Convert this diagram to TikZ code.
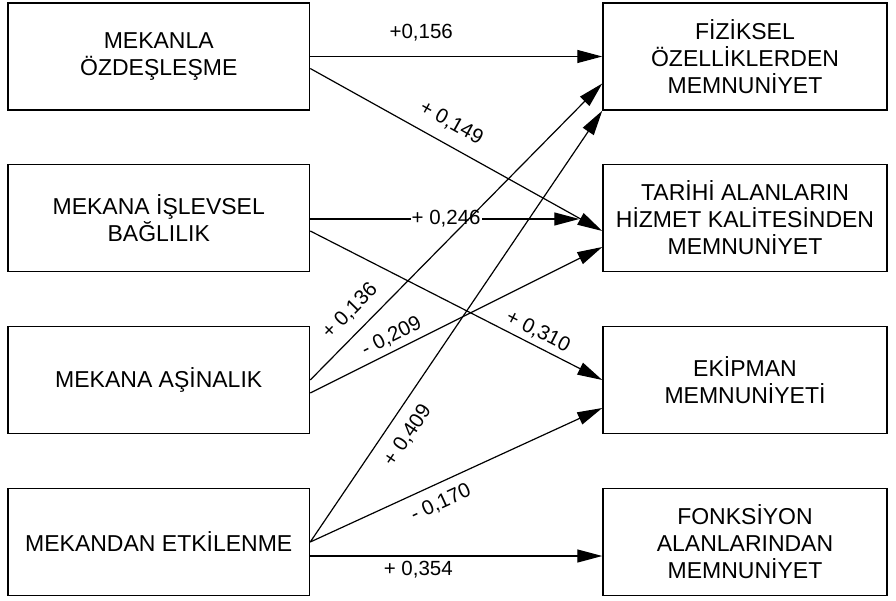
\documentclass[tikz,border=0pt]{standalone}
\usepackage{fontspec}
\setmainfont{Liberation Sans}
\usetikzlibrary{arrows.meta}
\tikzset{
  box/.style={draw, line width=1.5pt, inner sep=0pt, align=center,
    minimum height=107pt, font=\fontsize{23}{27}\selectfont},
  lbox/.style={box, minimum width=301.5pt},
  rbox/.style={box, minimum width=284pt},
  conn/.style={line width=1.2pt, -{Triangle[length=25pt,width=13pt]}},
  lbl/.style={font=\fontsize{20.5}{24}\selectfont, inner sep=0pt, anchor=center},
  wlbl/.style={lbl, fill=white, inner xsep=1pt, inner ysep=0pt}
}
\begin{document}
\begin{tikzpicture}[x=1pt,y=-1pt]
\useasboundingbox (0,0) rectangle (896,601);
% left boxes
\node[lbox] (L1) at (158.75,56.5) {MEKANLA\\ÖZDEŞLEŞME};
\node[lbox] (L2) at (158.75,218) {MEKANA İŞLEVSEL\\BAĞLILIK};
\node[lbox] (L3) at (158.75,380) {MEKANA AŞİNALIK};
\node[lbox] (L4) at (158.75,542) {MEKANDAN ETKİLENME};
% right boxes
\node[rbox] (R1) at (745,56.5) {FİZİKSEL\\ÖZELLİKLERDEN\\MEMNUNİYET};
\node[rbox] (R2) at (745,218) {TARİHİ ALANLARIN\\HİZMET KALİTESİNDEN\\MEMNUNİYET};
\node[rbox] (R3) at (745,380) {EKİPMAN\\MEMNUNİYETİ};
\node[rbox] (R4) at (745,542) {FONKSİYON\\ALANLARINDAN\\MEMNUNİYET};
% connectors
\draw[conn] (L1.east) -- node[lbl, pos=0.38, yshift=24pt] {+0,156} (R1.west);
\draw[conn] ([yshift=-12pt]L1.east) -- node[lbl, sloped, pos=0.448, yshift=21pt] {+ 0,149} ([yshift=-13pt]R2.west);
\draw[conn] ([yshift=-1pt]L2.east) -- node[wlbl, pos=0.505] {+ 0,246} ([xshift=-23pt,yshift=-1pt]R2.west);
\draw[conn] ([yshift=-13pt]L2.east) -- node[lbl, sloped, pos=0.758, yshift=14pt] {+ 0,310} (R3.west);
\draw[conn] (L3.east) -- node[lbl, sloped, pos=0.185, yshift=20pt] {+ 0,136} ([yshift=-27pt]R1.west);
\draw[conn] ([yshift=-13pt]L3.east) -- node[lbl, sloped, pos=0.30, yshift=14pt] {- 0,209} ([yshift=-29pt]R2.west);
\draw[conn] (L4.east) -- node[lbl, sloped, pos=0.274, yshift=-21pt] {+ 0,409} (R1.south west);
\draw[conn] (L4.east) -- node[lbl, sloped, pos=0.42, yshift=-19pt] {- 0,170} ([yshift=-28pt]R3.west);
\draw[conn] ([yshift=-14pt]L4.east) -- node[lbl, pos=0.37, yshift=-14pt] {+ 0,354} ([yshift=-14pt]R4.west);
\end{tikzpicture}
\end{document}
